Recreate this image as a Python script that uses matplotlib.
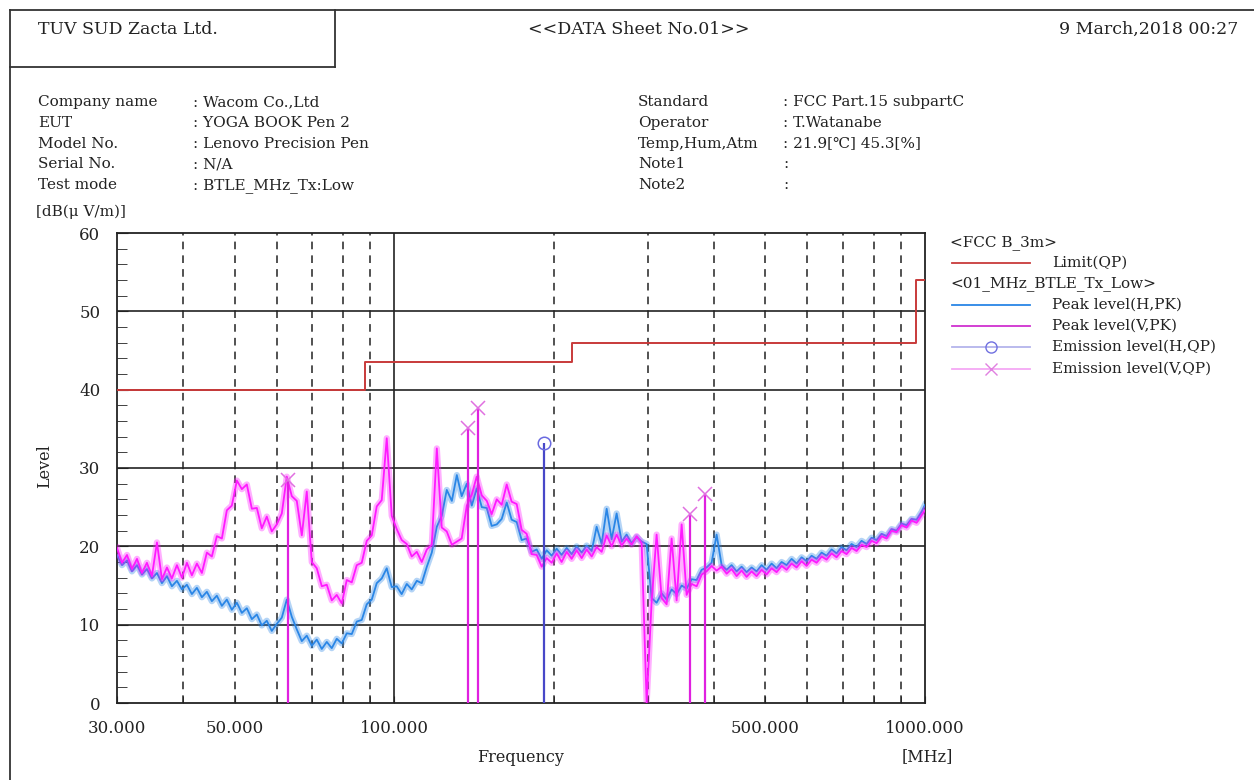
import matplotlib

matplotlib.use("Agg")
import matplotlib.pyplot as plt
from matplotlib.lines import Line2D

W, H = 1254, 780

# sweep frequencies [MHz]
FREQ = [
    30.00, 30.66, 31.33, 32.01, 32.72, 33.43, 34.16, 34.91, 35.68, 36.46,
    37.26, 38.07, 38.91, 39.76, 40.63, 41.52, 42.43, 43.36, 44.31, 45.28,
    46.27, 47.29, 48.32, 49.38, 50.47, 51.57, 52.70, 53.86, 55.04, 56.24,
    57.47, 58.73, 60.02, 61.34, 62.68, 64.06, 65.46, 66.90, 68.36, 69.86,
    71.39, 72.96, 74.56, 76.19, 77.86, 79.57, 81.31, 83.10, 84.92, 86.78,
    88.68, 90.63, 92.61, 94.64, 96.72, 98.84, 101.0, 103.2, 105.5, 107.8,
    110.2, 112.6, 115.1, 117.6, 120.2, 122.8, 125.5, 128.3, 131.1, 133.9,
    136.9, 139.9, 142.9, 146.1, 149.3, 152.5, 155.9, 159.3, 162.8, 166.3,
    170.0, 173.7, 177.5, 181.4, 185.4, 189.5, 193.6, 197.9, 202.2, 206.6,
    211.2, 215.8, 220.5, 225.4, 230.3, 235.4, 240.5, 245.8, 251.2, 256.7,
    262.3, 268.1, 273.9, 279.9, 286.1, 292.4, 298.8, 305.3, 312.0, 318.9,
    325.9, 333.0, 340.3, 347.8, 355.4, 363.2, 371.2, 379.3, 387.6, 396.1,
    404.8, 413.7, 422.8, 432.0, 441.5, 451.2, 461.1, 471.2, 481.5, 492.1,
    502.9, 513.9, 525.2, 536.7, 548.5, 560.5, 572.8, 585.4, 598.2, 611.3,
    624.7, 638.4, 652.4, 666.7, 681.3, 696.3, 711.5, 727.1, 743.1, 759.4,
    776.1, 793.1, 810.5, 828.3, 846.5, 865.0, 884.0, 903.4, 923.2, 943.4,
    964.1, 985.3, 1000.0,
]

# Peak level, horizontal polarisation [dB(uV/m)]
PEAK_H = [
    18.9, 17.6, 18.2, 16.8, 17.6, 16.4, 17.1, 15.9, 16.6, 15.3,
    16.2, 14.9, 15.6, 14.5, 15.1, 13.9, 14.7, 13.5, 14.2, 13.0,
    13.7, 12.4, 13.2, 11.9, 12.8, 11.5, 12.1, 10.7, 11.3, 9.9,
    10.5, 9.2, 10.1, 10.9, 13.2, 11.0, 9.4, 7.9, 8.6, 7.3,
    8.1, 6.9, 7.8, 7.0, 8.2, 7.6, 8.9, 8.8, 10.4, 10.6,
    12.6, 13.2, 15.3, 15.9, 17.2, 14.8, 14.9, 13.9, 15.2, 14.5,
    15.6, 15.3, 17.4, 19.2, 22.5, 23.9, 27.2, 25.8, 29.1, 26.4,
    28.0, 25.2, 27.4, 25.0, 24.9, 22.6, 22.8, 23.5, 25.6, 23.4,
    23.1, 20.8, 21.0, 19.3, 19.6, 18.4, 19.5, 18.8, 19.7, 18.9,
    19.8, 19.0, 20.0, 19.2, 20.1, 19.4, 22.5, 20.3, 24.8, 20.9,
    24.2, 20.6, 21.5, 20.4, 21.2, 20.6, 20.3, 13.4, 12.8, 14.0,
    13.2, 14.5, 13.9, 15.0, 14.6, 15.8, 15.7, 17.0, 17.3, 17.9,
    21.5, 17.6, 17.0, 17.6, 16.8, 17.4, 16.7, 17.3, 16.8, 17.6,
    17.0, 17.8, 17.2, 18.0, 17.6, 18.4, 17.8, 18.6, 18.1, 18.8,
    18.4, 19.2, 18.8, 19.6, 19.1, 19.9, 19.5, 20.3, 19.9, 20.7,
    20.3, 21.1, 20.8, 21.6, 21.3, 22.2, 22.0, 22.9, 22.7, 23.5,
    23.4, 24.4, 25.3,
]

# Peak level, vertical polarisation [dB(uV/m)]
PEAK_V = [
    19.8, 17.9, 18.9, 17.1, 18.4, 16.6, 17.9, 16.2, 20.5, 15.8,
    17.3, 15.9, 17.6, 16.0, 17.9, 16.3, 17.8, 16.6, 19.2, 18.7,
    21.3, 21.0, 24.6, 25.2, 28.4, 27.3, 27.9, 24.8, 24.9, 22.3,
    23.8, 21.9, 22.8, 24.2, 28.9, 26.4, 25.8, 21.4, 27.0, 18.0,
    17.2, 14.9, 15.1, 13.1, 13.8, 12.7, 15.7, 15.4, 17.6, 17.9,
    20.7, 21.4, 25.1, 25.9, 33.8, 23.9, 22.2, 20.8, 20.3, 18.7,
    19.3, 18.0, 19.6, 20.2, 32.5, 22.4, 21.9, 20.2, 20.6, 21.0,
    25.2, 26.6, 28.9, 26.5, 25.8, 24.1, 26.0, 25.3, 27.9, 25.7,
    25.4, 22.1, 21.6, 19.0, 18.9, 17.4, 18.5, 17.9, 19.1, 18.0,
    19.3, 18.4, 19.5, 18.5, 19.6, 18.7, 19.9, 19.3, 21.4, 20.0,
    21.5, 20.1, 21.0, 20.2, 21.3, 20.4, 0.0, 12.9, 21.5, 13.4,
    12.6, 21.0, 13.1, 22.8, 13.8, 15.2, 14.9, 16.4, 16.8, 17.5,
    16.9, 17.4, 16.5, 17.1, 16.2, 16.9, 16.1, 16.8, 16.2, 17.0,
    16.4, 17.2, 16.7, 17.5, 17.0, 17.8, 17.3, 18.1, 17.5, 18.3,
    17.9, 18.7, 18.3, 19.1, 18.6, 19.4, 19.0, 19.8, 19.4, 20.2,
    19.9, 20.7, 20.4, 21.3, 21.0, 22.0, 21.8, 22.7, 22.4, 23.3,
    23.0, 24.0, 24.6,
]

# FCC class B 3 m quasi-peak limit
LIMIT_FREQ = [30, 88, 88, 216, 216, 960, 960, 1000]
LIMIT_LEVEL = [40, 40, 43.5, 43.5, 46, 46, 54, 54]

# quasi-peak emission results
QP_H_FREQ = [191.3]
QP_H_LEVEL = [33.2]
QP_V_FREQ = [63.0, 137.6, 143.7, 360.6, 384.8]
QP_V_LEVEL = [28.5, 35.1, 37.7, 24.1, 26.7]

X_TICKS = [30, 50, 100, 500, 1000]
X_TICK_LABELS = ["30.000", "50.000", "100.000", "500.000", "1000.000"]
DASHED_FREQ = [40, 50, 60, 70, 80, 90, 200, 300, 400, 500, 600, 700, 800, 900]

HEADER_LEFT = [
    ("Company name", ": Wacom Co.,Ltd"),
    ("EUT", ": YOGA BOOK Pen 2"),
    ("Model No.", ": Lenovo Precision Pen"),
    ("Serial No.", ": N/A"),
    ("Test mode", ": BTLE_MHz_Tx:Low"),
]
HEADER_RIGHT = [
    ("Standard", ": FCC Part.15 subpartC"),
    ("Operator", ": T.Watanabe"),
    ("Temp,Hum,Atm", ": 21.9[℃] 45.3[%]"),
    ("Note1", ":"),
    ("Note2", ":"),
]

RED = "#c83a3a"
BLUE = "#2a86e6"
MAGENTA = "#ff1aff"
STEM_BLUE = "#4848c8"
INK = "#222222"
SERIF = ["DejaVu Serif", "DejaVu Sans", "Noto Sans CJK JP"]

plt.rcParams["font.family"] = SERIF


def fx(x):
    return x / W


def fy(y):
    return 1 - y / H


fig = plt.figure(figsize=(W / 100, H / 100), dpi=100)

# page frame and header box
frame = [((10, 1254), (10, 10)), ((10, 10), (10, 780)), ((10, 335), (67, 67)), ((335, 335), (10, 67))]
for xs, ys in frame:
    fig.add_artist(Line2D([fx(v) for v in xs], [fy(v) for v in ys], color="#333333", lw=1.3))

fig.text(fx(38), fy(29), "TUV SUD Zacta Ltd.", fontsize=12.5, va="center", color=INK)
fig.text(fx(639), fy(29), "<<DATA Sheet No.01>>", fontsize=12.5, va="center", ha="center", color=INK)
fig.text(fx(1238), fy(29), "9 March,2018 00:27", fontsize=12.5, va="center", ha="right", color=INK)

for i, (label, value) in enumerate(HEADER_LEFT):
    y = 102 + i * 20.8
    fig.text(fx(38), fy(y), label, fontsize=11, va="center", color=INK)
    fig.text(fx(193), fy(y), value, fontsize=11, va="center", color=INK)
for i, (label, value) in enumerate(HEADER_RIGHT):
    y = 102 + i * 20.8
    fig.text(fx(638), fy(y), label, fontsize=11, va="center", color=INK)
    fig.text(fx(783), fy(y), value, fontsize=11, va="center", color=INK)

fig.text(fx(36), fy(212), "[dB(μ V/m)]", fontsize=11, va="center", color=INK)
fig.text(fx(45), fy(466), "Level", fontsize=11.5, va="center", ha="center", rotation=90, color=INK)
fig.text(fx(521), fy(757), "Frequency", fontsize=11.5, va="center", ha="center", color=INK)
fig.text(fx(927), fy(757), "[MHz]", fontsize=11.5, va="center", ha="center", color=INK)

ax = fig.add_axes([fx(117), fy(703), fx(925) - fx(117), fy(233) - fy(703)])
ax.set_xscale("log")
ax.set_xlim(30, 1000)
ax.set_ylim(0, 60)

for f in DASHED_FREQ:
    ax.axvline(f, color=INK, lw=1.1, ls=(0, (5, 4)), zorder=1)
ax.axvline(100, color=INK, lw=1.2, zorder=1)
for lv in [10, 20, 30, 40, 50]:
    ax.axhline(lv, color=INK, lw=1.2, zorder=1)

# noisy peak traces: soft wide band plus the sharp trace on top
ax.plot(FREQ, PEAK_H, color=BLUE, lw=4.5, alpha=0.35, solid_joinstyle="round", zorder=2)
ax.plot(FREQ, PEAK_H, color=BLUE, lw=1.3, zorder=3)
ax.plot(FREQ, PEAK_V, color=MAGENTA, lw=4.5, alpha=0.35, solid_joinstyle="round", zorder=3.5)
ax.plot(FREQ, PEAK_V, color=MAGENTA, lw=1.3, zorder=4)
ax.plot(LIMIT_FREQ, LIMIT_LEVEL, color=RED, lw=1.4, zorder=5)

ax.vlines(QP_V_FREQ, 0, QP_V_LEVEL, color="#e020e0", lw=1.6, zorder=6)
ax.vlines(QP_H_FREQ, 0, QP_H_LEVEL, color=STEM_BLUE, lw=1.6, zorder=6)
ax.plot(QP_V_FREQ, QP_V_LEVEL, ls="none", marker="x", ms=10, mew=1.1, color="#e070e0", zorder=7)
ax.plot(QP_H_FREQ, QP_H_LEVEL, ls="none", marker="o", ms=9, mfc="none", mew=1.1, color="#6a6ae0", zorder=7)

ax.set_xticks(X_TICKS)
ax.set_xticklabels(X_TICK_LABELS)
ax.set_xticks(DASHED_FREQ, minor=True)
ax.xaxis.set_minor_formatter(matplotlib.ticker.NullFormatter())
ax.set_yticks([0, 10, 20, 30, 40, 50, 60])
ax.set_yticks(range(0, 61, 2), minor=True)
ax.tick_params(axis="both", which="both", direction="in", labelsize=12, colors=INK)
ax.tick_params(axis="y", which="major", length=8, pad=12)
ax.tick_params(axis="y", which="minor", length=7)
ax.tick_params(axis="x", which="both", length=5, pad=12)
for sp in ax.spines.values():
    sp.set_color(INK)
    sp.set_linewidth(1.3)

# legend drawn on the page
fig.text(fx(950), fy(243), "<FCC B_3m>", fontsize=11, va="center", color=INK)
fig.text(fx(950), fy(284), "<01_MHz_BTLE_Tx_Low>", fontsize=11, va="center", color=INK)
legend_rows = [
    (263, "Limit(QP)", RED, None),
    (305, "Peak level(H,PK)", BLUE, None),
    (326, "Peak level(V,PK)", "#d030d0", None),
    (347, "Emission level(H,QP)", "#b4b4ec", "o"),
    (369, "Emission level(V,QP)", "#f4a8f4", "x"),
]
for y, label, color, marker in legend_rows:
    fig.add_artist(Line2D([fx(952), fx(1030)], [fy(y), fy(y)], color=color, lw=1.3))
    if marker == "o":
        fig.add_artist(Line2D([fx(991)], [fy(y)], marker="o", ms=8, mfc="none", mec="#7070e0", mew=1.0))
    elif marker == "x":
        fig.add_artist(Line2D([fx(991)], [fy(y)], marker="x", ms=8, mec="#e080e0", mew=1.0))
    fig.text(fx(1052), fy(y), label, fontsize=11, va="center", color=INK)

fig.savefig("out.png", dpi=100)
plt.close(fig)
